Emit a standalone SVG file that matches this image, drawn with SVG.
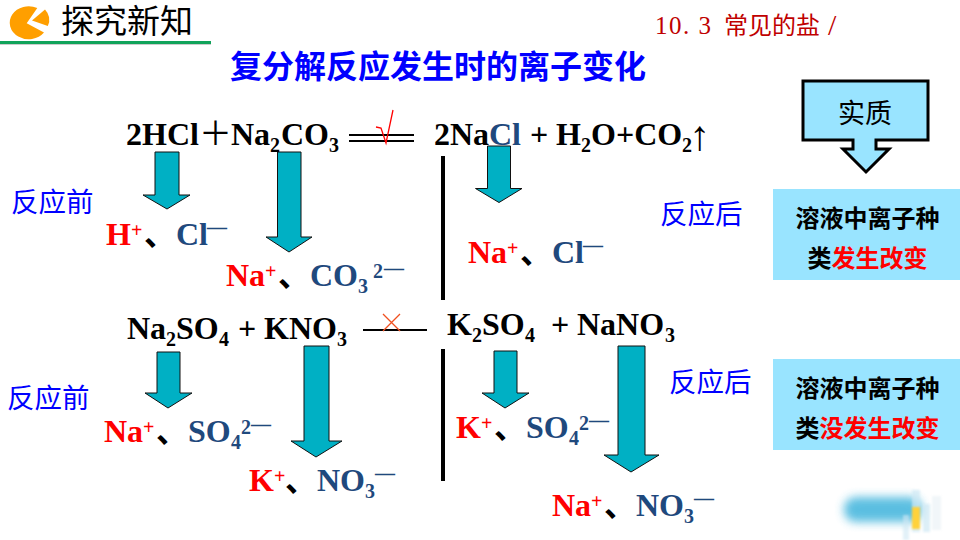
<svg xmlns="http://www.w3.org/2000/svg" width="960" height="540" viewBox="0 0 960 540">
<style>
.f{font-family:"Liberation Serif","Noto Sans CJK SC",serif;font-weight:700;font-size:32px;fill:#000}
.s{font-size:20px}
.r{fill:#f00}.b{fill:#1f497d}
.a{fill:#00b0c4;stroke:#111;stroke-width:1}
.z{font-family:"Noto Sans CJK SC",sans-serif;font-size:27.500px;fill:#00f}
.k{font-family:"Noto Sans CJK SC",sans-serif;font-weight:700;font-size:24px;fill:#000}
.box{fill:#99e4ff}
.l{stroke:#000;fill:none}
.h{font-family:"Liberation Serif","Noto Sans CJK SC",serif;fill:#c00000}
</style>
<rect width="960" height="540" fill="#fff"/>
<g id="header">
<path d="M26.700 23.300L37.300 8A19 16.500 0 1 0 44 32.500Z" fill="#ff9f00"/>
<path d="M32 20.500L45 9.500A19 16.500 0 0 1 47.800 26Z" fill="#ff9f00"/>
<text x="61" y="33" style="font-family:'Noto Sans CJK SC',sans-serif;font-size:33px;fill:#000">探究新知</text>
<rect x="0" y="41" width="211" height="3" fill="#10a35a"/>
<rect x="0" y="44" width="211" height="1" fill="#ccc"/>
<text class="h" x="655" y="34" style="font-size:25px;letter-spacing:1.500px">10. 3</text>
<text class="h" x="724" y="34" style="font-size:24px">常见的盐</text>
<text class="h" x="828" y="35" style="font-size:30px">/</text>
</g>
<g id="title"><text x="230" y="78" style="font-family:'Noto Sans CJK SC',sans-serif;font-weight:700;font-size:32px;fill:#00f">复分解反应发生时的离子变化</text></g>
<g id="connectors">
<polygon class="a" points="155,152 179,152 179,195 190,195 167,209 143,195 155,195"/>
<polygon class="a" points="277.500,152 301,152 301,237 312,237 289,252 266,237 277.500,237"/>
<polygon class="a" points="487.500,146 510.500,146 510.500,188.500 522,188.500 499,202.500 475.500,188.500 487.500,188.500"/>
<polygon class="a" points="157,352 180,352 180,393 192,393 168,408 145,393 157,393"/>
<polygon class="a" points="304,346 329,346 329,441 342,441 316,457 291,441 304,441"/>
<polygon class="a" points="494,351 517,351 517,393 529,393 505,408 482,393 494,393"/>
<polygon class="a" points="618,346 645,346 645,455 659,455 631,472 604,455 618,455"/>
<path class="l" stroke-width="2" d="M349 135H414M349 141H414"/>
<path d="M376 127L381 128L386 143L393 110" fill="none" stroke="#f00" stroke-width="1.300"/>
<path class="l" stroke-width="2" d="M363 330H427"/>
<path d="M383 314L400 331M400 314L383 331" fill="none" stroke="#f05020" stroke-width="1.300"/>
<path class="l" stroke-width="4" d="M443 156V300M443 349V481"/>
</g>
<g id="eq1">
<text class="f" x="126" y="145">2HCl</text>
<text x="199" y="145" style="font-family:'Noto Sans CJK SC',sans-serif;font-size:33px;fill:#000">＋</text>
<text class="f" x="231" y="145">Na</text><text class="f s" x="270" y="152">2</text><text class="f" x="281" y="145">CO</text><text class="f s" x="329" y="152">3</text>
<text class="f" x="434" y="145">2Na</text><text class="f b" x="489" y="145">Cl</text><text class="f" x="530" y="145">+</text><text class="f" x="556" y="145">H</text><text class="f s" x="581" y="152">2</text><text class="f" x="591" y="145">O+CO</text><text class="f s" x="682" y="152">2</text>
<text x="689" y="150" style="font-family:'Liberation Serif',serif;font-size:42px;fill:#000">↑</text>
</g>
<g id="ions1">
<text class="f r" x="106" y="245">H<tspan class="s" dy="-8">+</tspan></text><text class="f" x="144" y="245">、</text><text class="f b" x="176" y="245">Cl</text><text class="f b s" x="207" y="234">―</text>
<text class="f r" x="226" y="286">Na<tspan class="s" dy="-8">+</tspan></text><text class="f" x="278" y="286">、</text><text class="f b" x="310" y="286">CO</text><text class="f b s" x="358" y="293">3</text><text class="f b s" x="373" y="278">2</text><text class="f b s" x="384" y="275">―</text>
<text class="f r" x="468" y="263">Na<tspan class="s" dy="-8">+</tspan></text><text class="f" x="520" y="263">、</text><text class="f b" x="552" y="263">Cl</text><text class="f b s" x="583" y="252">―</text>
</g>
<g id="eq2">
<text class="f" x="127" y="339">Na</text><text class="f s" x="166" y="346">2</text><text class="f" x="176" y="339">SO</text><text class="f s" x="219" y="346">4</text><text class="f" x="238" y="339">+</text><text class="f" x="264" y="339">KNO</text><text class="f s" x="337" y="346">3</text>
<text class="f" x="447" y="335">K</text><text class="f s" x="472" y="342">2</text><text class="f" x="482" y="335">SO</text><text class="f s" x="525" y="342">4</text><text class="f" x="551" y="335">+</text><text class="f" x="577" y="335">NaNO</text><text class="f s" x="665" y="342">3</text>
</g>
<g id="ions2">
<text class="f r" x="104" y="442">Na<tspan class="s" dy="-8">+</tspan></text><text class="f" x="156" y="442">、</text><text class="f b" x="188" y="442">SO</text><text class="f b s" x="231" y="449">4</text><text class="f b s" x="241" y="434">2</text><text class="f b s" x="251" y="431">―</text>
<text class="f r" x="249" y="491">K<tspan class="s" dy="-8">+</tspan></text><text class="f" x="285" y="491">、</text><text class="f b" x="317" y="491">NO</text><text class="f b s" x="365" y="498">3</text><text class="f b s" x="375" y="480">―</text>
<text class="f r" x="456" y="438">K<tspan class="s" dy="-8">+</tspan></text><text class="f" x="494" y="438">、</text><text class="f b" x="526" y="438">SO</text><text class="f b s" x="569" y="445">4</text><text class="f b s" x="579" y="430">2</text><text class="f b s" x="589" y="427">―</text>
<text class="f r" x="552" y="516">Na<tspan class="s" dy="-8">+</tspan></text><text class="f" x="604" y="516">、</text><text class="f b" x="636" y="516">NO</text><text class="f b s" x="684" y="523">3</text><text class="f b s" x="694" y="505">―</text>
</g>
<g id="labels">
<text class="z" x="11" y="212">反应前</text>
<text class="z" x="660" y="224">反应后</text>
<text class="z" x="7" y="408">反应前</text>
<text class="z" x="669" y="392">反应后</text>
</g>
<g id="essence">
<polygon points="803,81 928,81 928,140 876,140 876,149 889,149 866,172 843,149 853,149 853,140 803,140" fill="#99e4ff" stroke="#000" stroke-width="3"/>
<text x="865" y="123" text-anchor="middle" style="font-family:'Noto Sans CJK SC',sans-serif;font-size:27px;fill:#000">实质</text>
</g>
<g id="box1">
<rect class="box" x="773" y="189" width="187" height="91"/>
<text class="k" x="867.500" y="227" text-anchor="middle">溶液中离子种</text>
<text class="k" x="867.500" y="267" text-anchor="middle">类<tspan fill="#f00">发生改变</tspan></text>
</g>
<g id="box2">
<rect class="box" x="773" y="359" width="187" height="91"/>
<text class="k" x="867.500" y="397" text-anchor="middle">溶液中离子种</text>
<text class="k" x="867.500" y="437" text-anchor="middle">类<tspan fill="#f00">没发生改变</tspan></text>
</g>
<g id="watermark">
<rect x="844" y="497" width="78" height="25" rx="12" fill="#4ab8de" opacity="0.9" style="filter:blur(5px)"/>
<g style="filter:blur(1px)">
<rect x="912" y="490" width="8" height="42" fill="#cfe8f4" opacity="0.7"/>
<rect x="912" y="507" width="8" height="22" fill="#ffd23c"/>
<rect x="923" y="504" width="7" height="28" fill="#cfe8f4" opacity="0.7"/>
<rect x="932" y="496" width="9" height="34" fill="#eef4f8" opacity="0.8"/>
<rect x="903" y="515" width="6" height="25" fill="#cfe8f4" opacity="0.6"/>
</g>
</g>
</svg>
